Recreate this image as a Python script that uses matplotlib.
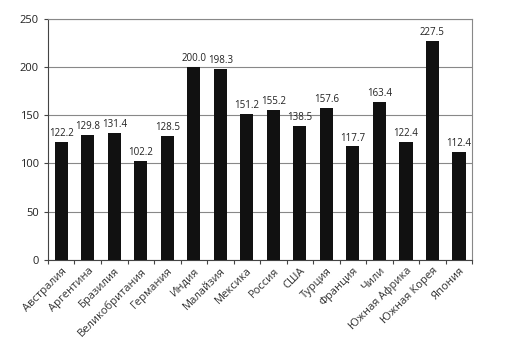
import matplotlib.pyplot as plt
import numpy as np

plt.rcParams['font.family'] = ['Open Sans', 'DejaVu Sans']

countries = ['Австралия', 'Аргентина', 'Бразилия', 'Великобритания', 'Германия',
             'Индия', 'Малайзия', 'Мексика', 'Россия', 'США', 'Турция',
             'Франция', 'Чили', 'Южная Африка', 'Южная Корея', 'Япония']
values = [122.2, 129.8, 131.4, 102.2, 128.5, 200.0, 198.3, 151.2, 155.2,
          138.5, 157.6, 117.7, 163.4, 122.4, 227.5, 112.4]

fig = plt.figure(figsize=(5.05, 3.56), dpi=100)
ax = fig.add_axes([0.095, 0.27, 0.84, 0.677])

x = np.arange(len(countries))
ax.bar(x, values, width=0.5, color='#111111', zorder=3)
for xi, v in zip(x, values):
    ax.text(xi, v + 3, f'{v:.1f}', ha='center', va='bottom', fontsize=7, color='#222222')

ax.set_xlim(-0.5, len(countries) - 0.5)
ax.set_ylim(0, 250)
ax.set_yticks(range(0, 251, 50))
ax.yaxis.grid(True, color='#888888', linewidth=0.8, zorder=0)
ax.tick_params(axis='y', labelsize=8, length=3, color='#444444', labelcolor='#222222')

# ticks between categories, labels at centers
ax.set_xticks(np.arange(-0.5, len(countries), 1))
ax.set_xticklabels([])
ax.set_xticks(x, minor=True)
ax.set_xticklabels(countries, minor=True, rotation=45, ha='right', rotation_mode='anchor',
                   fontsize=8, color='#333333')
ax.tick_params(axis='x', which='major', length=3, color='#444444')
ax.tick_params(axis='x', which='minor', length=0, pad=4)

ax.spines['left'].set_color('#444444')
ax.spines['bottom'].set_color('#444444')
ax.spines['top'].set_color('#888888')
ax.spines['right'].set_color('#888888')

fig.savefig('out.png', dpi=100)
